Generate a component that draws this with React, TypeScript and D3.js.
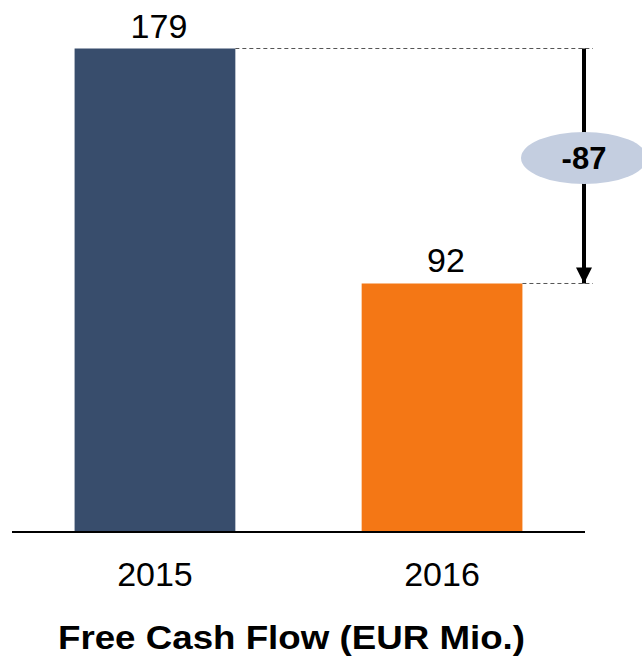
import React from 'react'
import * as d3 from 'd3'

const years = ['2015', '2016']
const values = [179, 92]
const barColors = ['#384d6c', '#f47715']
const deltaLabel = '-87'
const title = 'Free Cash Flow (EUR Mio.)'

const width = 642
const height = 663
const font = '"Liberation Sans", Arial, sans-serif'

const App: React.FC = () => {
  const x = d3
    .scaleBand<string>()
    .domain(years)
    .range([12, 585])
    .paddingInner(0.44)
    .paddingOuter(0.218)

  const y = d3
    .scaleLinear()
    .domain([0, d3.max(values) as number])
    .range([532, 48.5])

  const arrowX = 584
  const dashEnd = 593
  const yTop = y(values[0])
  const yBot = y(values[1])
  const midY = 158

  return (
    <svg
      width={width}
      height={height}
      style={{ position: 'absolute', left: 0, top: 0, background: '#fff' }}
      fontFamily={font}
    >
      <defs>
        <marker
          id="arrowHead"
          viewBox="0 0 10 10"
          refX="10"
          refY="5"
          markerWidth="16"
          markerHeight="16"
          markerUnits="userSpaceOnUse"
          orient="auto"
        >
          <path d="M0,0 L10,5 L0,10 Z" fill="#000" />
        </marker>
      </defs>

      {/* bars */}
      {years.map((yr, i) => (
        <rect
          key={yr}
          x={x(yr)}
          y={y(values[i])}
          width={x.bandwidth()}
          height={y(0) - y(values[i])}
          fill={barColors[i]}
        />
      ))}

      {/* value labels */}
      {years.map((yr, i) => (
        <text
          key={`v-${yr}`}
          x={(x(yr) as number) + x.bandwidth() / 2 + 4}
          y={y(values[i]) - 11}
          textAnchor="middle"
          fontSize={34}
          fill="#000"
        >
          {values[i]}
        </text>
      ))}

      {/* baseline */}
      <line x1={12} x2={585} y1={y(0)} y2={y(0)} stroke="#000" strokeWidth={2} />

      {/* year labels */}
      {years.map((yr) => (
        <text
          key={`x-${yr}`}
          x={(x(yr) as number) + x.bandwidth() / 2}
          y={586}
          textAnchor="middle"
          fontSize={34}
          fill="#000"
        >
          {yr}
        </text>
      ))}

      {/* dashed reference lines */}
      <line
        x1={(x(years[0]) as number) + x.bandwidth()}
        x2={dashEnd}
        y1={yTop}
        y2={yTop}
        stroke="#555"
        strokeWidth={1}
        strokeDasharray="4,3"
      />
      <line
        x1={(x(years[1]) as number) + x.bandwidth()}
        x2={dashEnd}
        y1={yBot}
        y2={yBot}
        stroke="#555"
        strokeWidth={1}
        strokeDasharray="4,3"
      />

      {/* difference arrow */}
      <line
        x1={arrowX}
        x2={arrowX}
        y1={yTop}
        y2={yBot}
        stroke="#000"
        strokeWidth={4}
        markerEnd="url(#arrowHead)"
      />
      <ellipse cx={arrowX} cy={midY} rx={63} ry={26} fill="#c4cee0" />
      <text
        x={arrowX}
        y={midY + 11}
        textAnchor="middle"
        fontSize={31}
        fontWeight="bold"
        fill="#000"
      >
        {deltaLabel}
      </text>

      {/* title */}
      <text
        x={291.5}
        y={649}
        textAnchor="middle"
        fontSize={34}
        fontWeight="bold"
        fill="#000"
        textLength={467}
        lengthAdjust="spacingAndGlyphs"
      >
        {title}
      </text>
    </svg>
  )
}

export default App
